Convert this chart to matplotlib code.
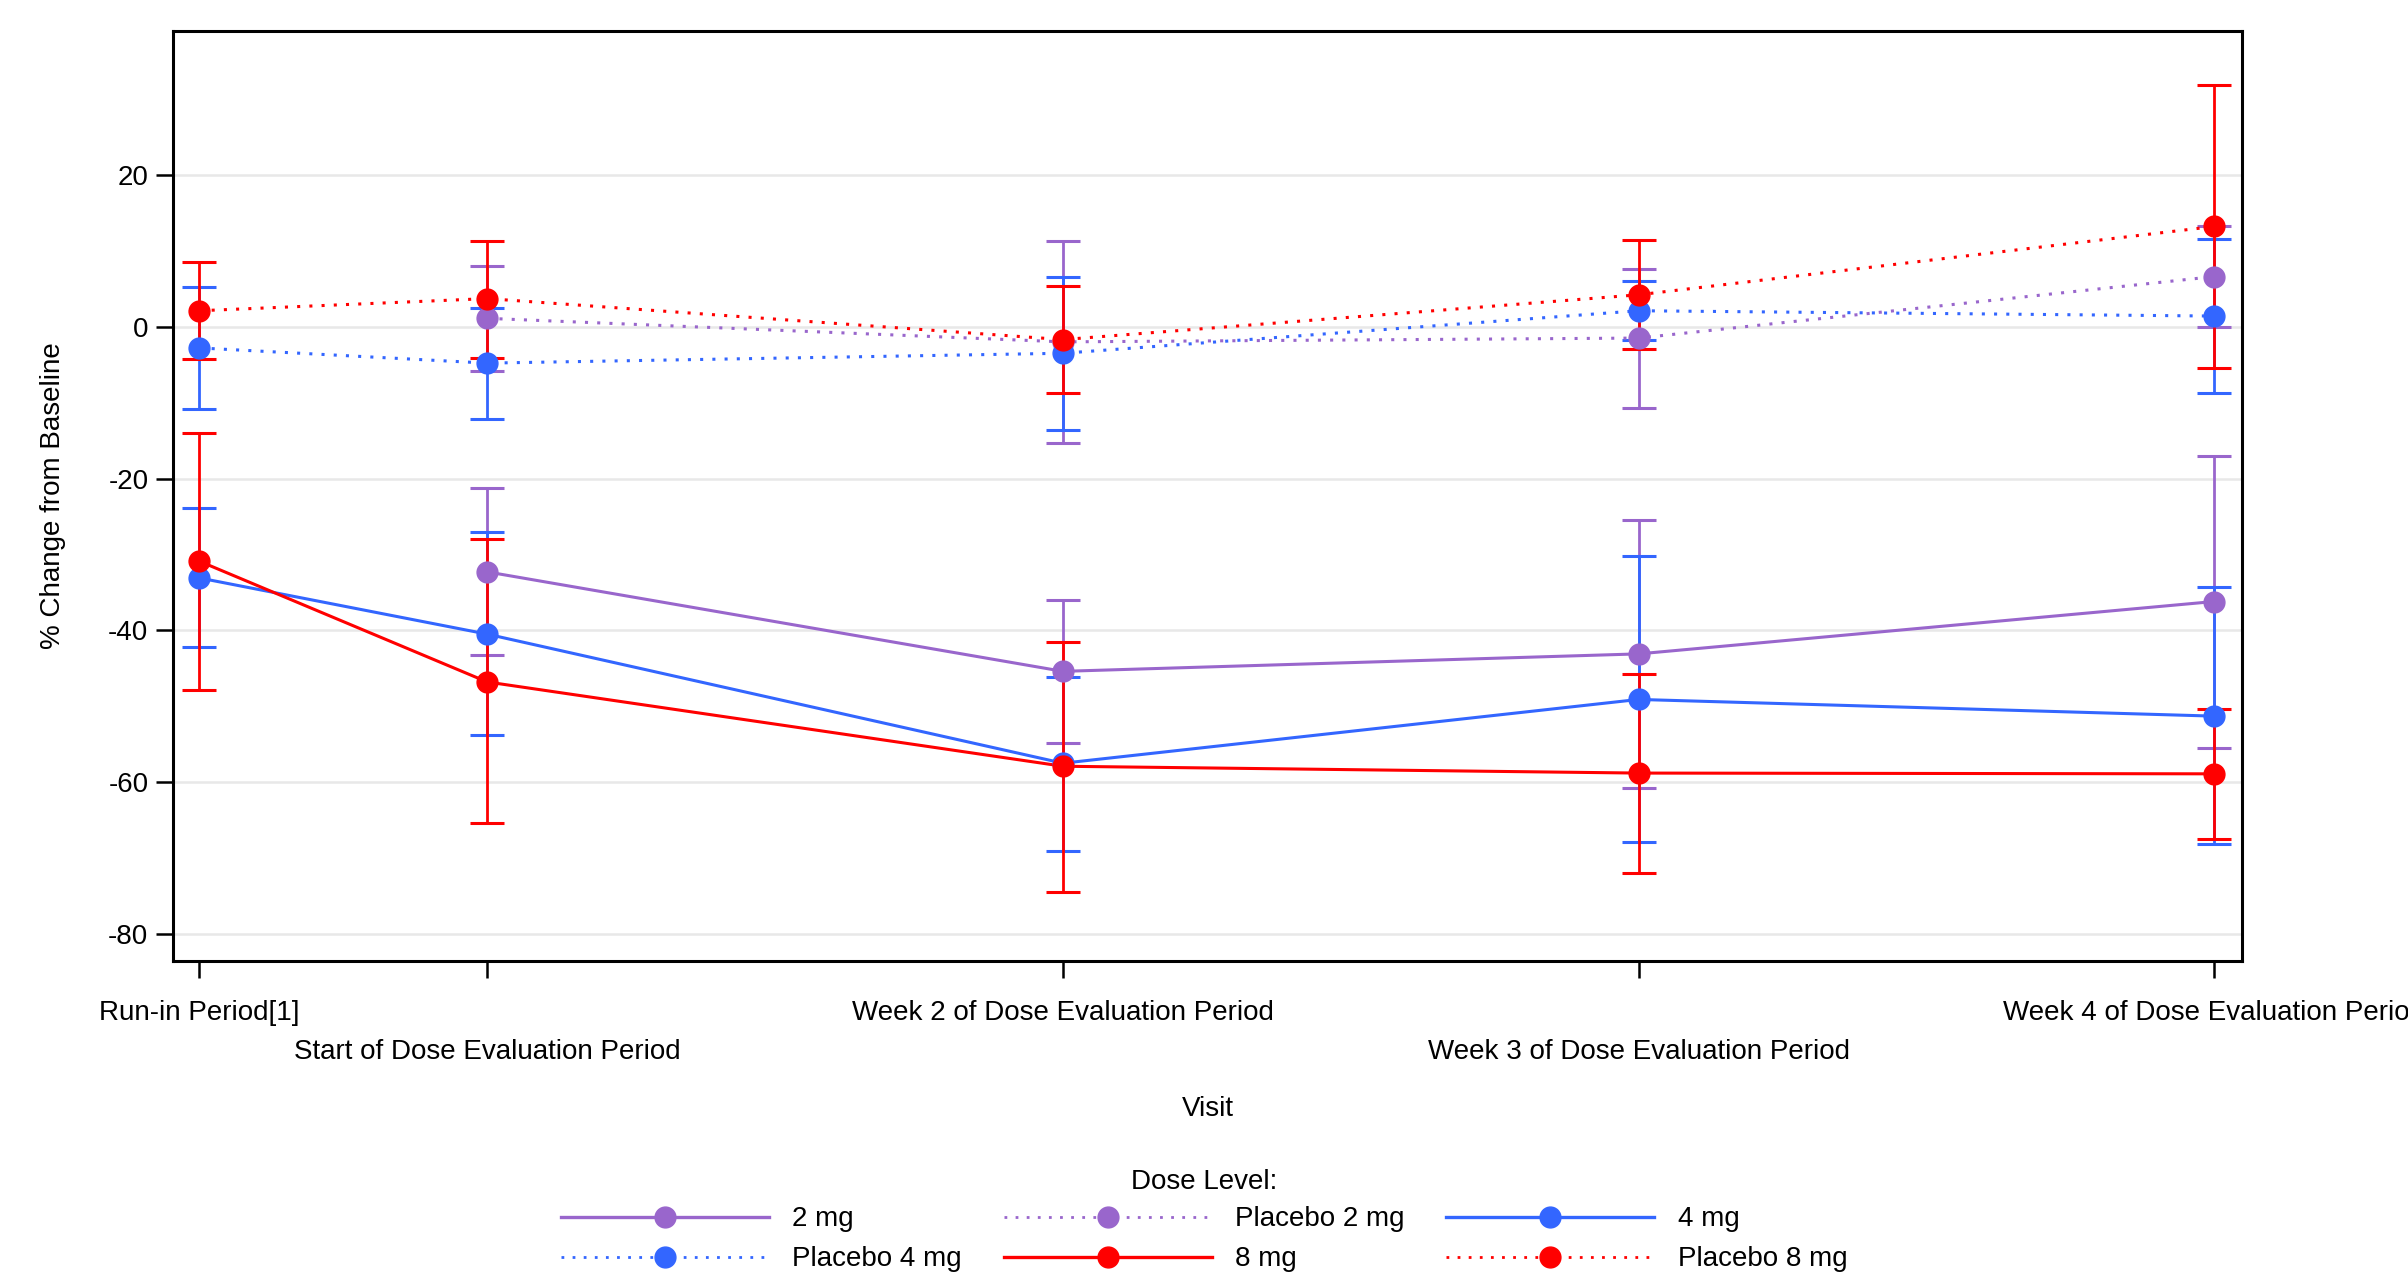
import numpy as np
import matplotlib
matplotlib.use("Agg")
import matplotlib.pyplot as plt
from matplotlib.lines import Line2D

plt.rcParams['font.family'] = ['Liberation Sans', 'DejaVu Sans']

visits = ["Run-in Period[1]", "Start of Dose Evaluation Period",
          "Week 2 of Dose Evaluation Period", "Week 3 of Dose Evaluation Period",
          "Week 4 of Dose Evaluation Period"]
visit_pos = [0.5, 1, 2, 3, 4]

series_names = ["2 mg", "Placebo 2 mg", "4 mg", "Placebo 4 mg", "8 mg", "Placebo 8 mg"]
nan = np.nan
mean_2mg = [nan, -32.3, -45.4, -43.1, -36.2]
low_2mg = [nan, -43.3, -54.8, -60.8, -55.5]
up_2mg = [nan, -21.2, -36.0, -25.4, -17.1]

mean_p2 = [nan, 1.1, -2.0, -1.5, 6.6]
low_p2 = [nan, -5.8, -15.3, -10.7, -0.1]
up_p2 = [nan, 8.0, 11.3, 7.6, 13.3]

mean_4mg = [-33.1, -40.5, -57.5, -49.1, -51.3]
low_4mg = [-42.2, -53.8, -69.1, -67.9, -68.1]
up_4mg = [-23.9, -27.0, -46.1, -30.2, -34.3]

mean_p4 = [-2.8, -4.8, -3.5, 2.1, 1.4]
low_p4 = [-10.9, -12.1, -13.6, -1.8, -8.8]
up_p4 = [5.2, 2.4, 6.6, 6.0, 11.6]

mean_8mg = [-30.9, -46.8, -57.9, -58.8, -58.9]
low_8mg = [-47.8, -65.4, -74.5, -71.9, -67.5]
up_8mg = [-14.0, -28.0, -41.5, -45.7, -50.4]

mean_p8 = [2.1, 3.7, -1.7, 4.2, 13.2]
low_p8 = [-4.2, -4.1, -8.7, -3.0, -5.4]
up_p8 = [8.5, 11.3, 5.3, 11.4, 31.9]

means = [mean_2mg, mean_p2, mean_4mg, mean_p4, mean_8mg, mean_p8]
lows = [low_2mg, low_p2, low_4mg, low_p4, low_8mg, low_p8]
ups = [up_2mg, up_p2, up_4mg, up_p4, up_8mg, up_p8]

PURPLE = "#9966CC"
BLUE = "#3366FF"
RED = "#FF0000"
colors = [PURPLE, PURPLE, BLUE, BLUE, RED, RED]
dotted = (0, (1, 3))
styles = ["-", dotted, "-", dotted, "-", dotted]

FS = 20
fig = plt.figure(figsize=(24.08, 12.75), dpi=100)
ax = fig.add_axes([0.072, 0.246, 0.859, 0.730])

handles = []
for name, m, lo, up, c, ls in zip(series_names, means, lows, ups, colors, styles):
    m = np.array(m, float)
    lo = np.array(lo, float)
    up = np.array(up, float)
    x = np.array(visit_pos, float)
    ok = ~np.isnan(m)
    ax.errorbar(x[ok], m[ok], yerr=[m[ok] - lo[ok], up[ok] - m[ok]], fmt='none',
                ecolor=c, elinewidth=2.0, capsize=12, capthick=2.2, zorder=2)
    ax.plot(x[ok], m[ok], color=c, linestyle=ls, linewidth=2.2, zorder=3)
    ax.plot(x[ok], m[ok], linestyle='none', marker='o', markersize=15,
            markerfacecolor=c, markeredgecolor=c, zorder=4)
    handles.append(Line2D([], [], color=c, linestyle=ls, linewidth=2.4 if ls == "-" else 2.0,
                          marker='o', markersize=15, markerfacecolor=c,
                          markeredgecolor=c, label=name))

ax.set_xlim(0.4547, 4.048)
ax.set_ylim(-83.6, 39.0)
ax.set_yticks([-80, -60, -40, -20, 0, 20])
ax.set_yticklabels(["-80", "-60", "-40", "-20", "0", "20"], fontsize=FS)
ax.yaxis.grid(True, color="#E8E8E8", linewidth=1.8, zorder=0)
ax.set_axisbelow(True)

row1 = [0, 2, 4]
row2 = [1, 3]
ax.set_xticks([visit_pos[i] for i in row1])
ax.set_xticklabels([visits[i] for i in row1], fontsize=FS)
ax.set_xticks([visit_pos[i] for i in row2], minor=True)
ax.set_xticklabels([visits[i] for i in row2], minor=True, fontsize=FS)
ax.tick_params(axis='x', which='major', length=12, width=1.8, pad=16)
ax.tick_params(axis='x', which='minor', length=12, width=1.8, pad=44)
ax.tick_params(axis='y', length=12, width=1.8, pad=6)

for sp in ax.spines.values():
    sp.set_linewidth(2.2)
    sp.set_color("black")

ax.set_xlabel("Visit", fontsize=FS, labelpad=22)
ax.set_ylabel("% Change from Baseline", fontsize=FS, labelpad=30)

order = [0, 3, 1, 4, 2, 5]
leg = fig.legend([handles[i] for i in order], [series_names[i] for i in order],
                 loc="lower center", bbox_to_anchor=(0.5, -0.011), ncol=3,
                 frameon=False, fontsize=FS, title="Dose Level:", title_fontsize=FS,
                 handlelength=7.5, handletextpad=0.83, columnspacing=1.5,
                 labelspacing=0.5, borderpad=0.1)
leg._legend_box.sep = 8

fig.savefig("out.png", dpi=100)
